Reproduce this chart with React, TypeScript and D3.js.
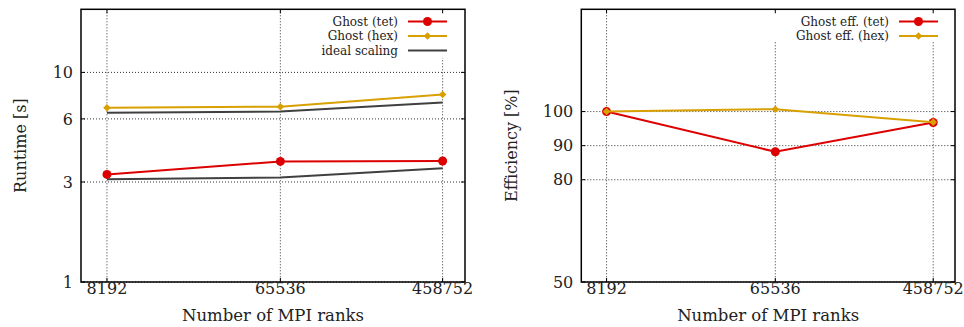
import * as d3 from 'd3';
import { FC } from 'react';

const ranks = [8192, 65536, 458752];

const runtimeTet = [3.26, 3.76, 3.78];
const runtimeHex = [6.78, 6.86, 7.85];
const idealTet = [3.09, 3.15, 3.49];
const idealHex = [6.42, 6.51, 7.19];
const runtimeTicks = [1, 3, 6, 10];

const effTet = [100, 88.2, 96.8];
const effHex = [100, 100.7, 96.9];
const effTicks = [50, 80, 90, 100];

const RED = '#dd0000';
const GOLD = '#d8a000';
const GRAY = '#404040';
const FONT = 'DejaVu Serif';

type Series = {
  label?: string;
  values: number[];
  color: string;
  marker: 'circle' | 'diamond' | 'none';
};

type Props = {
  left: number;
  right: number;
  top: number;
  bottom: number;
  yScaleType: 'log' | 'linear';
  yDomain: [number, number];
  yTicks: number[];
  yLabel: string;
  yLabelX: number;
  series: Series[];
  legendX: number; // right edge of legend text
  legendBox: [number, number, number, number];
};

const Marker: FC<{ kind: Series['marker']; x: number; y: number; color: string }> = ({ kind, x, y, color }) => {
  if (kind === 'circle') return <circle cx={x} cy={y} r={4.5} fill={color} />;
  if (kind === 'diamond') {
    const s = 3.8;
    return <path d={`M${x},${y - s}L${x + s},${y}L${x},${y + s}L${x - s},${y}Z`} fill={color} />;
  }
  return null;
};

const Panel: FC<Props> = ({ left, right, top, bottom, yScaleType, yDomain, yTicks, yLabel, yLabelX, series, legendX, legendBox }) => {
  const x = d3.scaleLog().domain([6000, 600000]).range([left, right]);
  const y = (yScaleType === 'log' ? d3.scaleLog() : d3.scaleLinear()).domain(yDomain).range([bottom, top]);
  const line = d3
    .line<number>()
    .x((_, i) => x(ranks[i]))
    .y((d) => y(d));

  const labelled = series.filter((s) => s.label);
  const [bx0, by0, bx1, by1] = legendBox;

  return (
    <g>
      {/* grid */}
      {ranks.map((r) => (
        <line key={'gx' + r} x1={x(r)} x2={x(r)} y1={top} y2={bottom} stroke="#333" strokeWidth={1} strokeDasharray="1,2" />
      ))}
      {yTicks.map((t) => (
        <line key={'gy' + t} x1={left} x2={right} y1={y(t)} y2={y(t)} stroke="#333" strokeWidth={1} strokeDasharray="1,2" />
      ))}
      {/* opaque key area */}
      <rect x={bx0} y={by0} width={bx1 - bx0} height={by1 - by0} fill="#fff" />
      {/* ticks on all sides */}
      {ranks.map((r) => (
        <g key={'tx' + r}>
          <line x1={x(r)} x2={x(r)} y1={bottom} y2={bottom - 4} stroke="#000" />
          <line x1={x(r)} x2={x(r)} y1={top} y2={top + 4} stroke="#000" />
        </g>
      ))}
      {yTicks.map((t) => (
        <g key={'ty' + t}>
          <line x1={left} x2={left + 4} y1={y(t)} y2={y(t)} stroke="#000" />
          <line x1={right} x2={right - 4} y1={y(t)} y2={y(t)} stroke="#000" />
        </g>
      ))}
      {/* series */}
      {series.map((s, k) => (
        <g key={'s' + k}>
          <path d={line(s.values) || ''} fill="none" stroke={s.color} strokeWidth={2} />
          {s.values.map((v, i) => (
            <Marker key={i} kind={s.marker} x={x(ranks[i])} y={y(v)} color={s.color} />
          ))}
        </g>
      ))}
      {/* frame */}
      <rect x={left} y={top} width={right - left} height={bottom - top} fill="none" stroke="#000" strokeWidth={1.5} />
      {/* tick labels */}
      {ranks.map((r) => (
        <text key={'lx' + r} x={x(r)} y={294} textAnchor="middle" fontSize={16} fontFamily={FONT} fill="#222">
          {r}
        </text>
      ))}
      {yTicks.map((t) => (
        <text key={'ly' + t} x={left - 8} y={y(t)} dy="0.36em" textAnchor="end" fontSize={16} fontFamily={FONT} fill="#222">
          {t}
        </text>
      ))}
      <text x={(left + right) / 2} y={321} textAnchor="middle" fontSize={16.5} fontFamily={FONT} fill="#222">
        Number of MPI ranks
      </text>
      <text
        transform={`translate(${yLabelX},${(top + bottom) / 2}) rotate(-90)`}
        dy="0.36em"
        textAnchor="middle"
        fontSize={16}
        fontFamily={FONT}
        fill="#222"
      >
        {yLabel}
      </text>
      {/* legend */}
      {labelled.map((s, i) => {
        const ly = 21.5 + i * 14.5;
        return (
          <g key={'lg' + i}>
            <text x={legendX} y={ly} dy="0.35em" textAnchor="end" fontSize={12} fontFamily={FONT} fill="#222">
              {s.label}
            </text>
            <line x1={legendX + 10} x2={legendX + 49} y1={ly} y2={ly} stroke={s.color} strokeWidth={2} />
            <Marker kind={s.marker} x={legendX + 29.5} y={ly} color={s.color} />
          </g>
        );
      })}
    </g>
  );
};

export default function App() {
  return (
    <svg width={964} height={327} style={{ position: 'absolute', left: 0, top: 0, background: '#fff' }}>
      <Panel
        left={81}
        right={465}
        top={9.3}
        bottom={282}
        yScaleType="log"
        yDomain={[1, 20]}
        yTicks={runtimeTicks}
        yLabel="Runtime [s]"
        yLabelX={20}
        series={[
          { label: 'Ghost (tet)', values: runtimeTet, color: RED, marker: 'circle' },
          { label: 'Ghost (hex)', values: runtimeHex, color: GOLD, marker: 'diamond' },
          { label: 'ideal scaling', values: idealHex, color: GRAY, marker: 'none' },
          { values: idealTet, color: GRAY, marker: 'none' },
        ]}
        legendX={398}
        legendBox={[322, 11, 464, 58]}
      />
      <Panel
        left={581.3}
        right={955}
        top={9.3}
        bottom={282}
        yScaleType="linear"
        yDomain={[50, 130]}
        yTicks={effTicks}
        yLabel="Efficiency [%]"
        yLabelX={511.5}
        series={[
          { label: 'Ghost eff. (tet)', values: effTet, color: RED, marker: 'circle' },
          { label: 'Ghost eff. (hex)', values: effHex, color: GOLD, marker: 'diamond' },
        ]}
        legendX={889}
        legendBox={[770, 11, 954, 42]}
      />
    </svg>
  );
}
